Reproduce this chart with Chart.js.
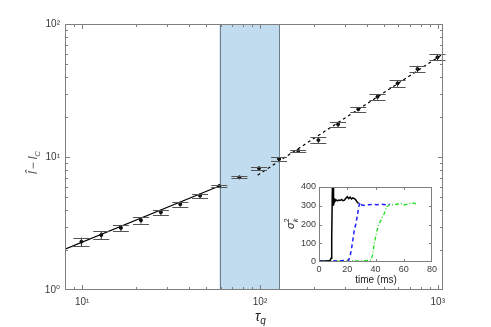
<!DOCTYPE html>
<html>
<head>
<meta charset="utf-8">
<script src="https://cdn.jsdelivr.net/npm/chart.js@4"></script>
<style>
  body { margin: 0; background: #fff; }
  #wrap { position: relative; width: 491px; height: 327px; }
  #main { position: absolute; left: 0; top: 0; }
  #inset { position: absolute; left: 280px; top: 175px; }
</style>
</head>
<body>
<div id="wrap">
  <canvas id="main" width="491" height="327"></canvas>
  <canvas id="inset" width="160" height="112"></canvas>
</div>
<script>
// main plot data (log-log)
const tauQ = [9.9, 12.8, 16.5, 21.4, 27.7, 35.6, 46, 59, 76.6, 98.7, 128, 164, 213, 275, 357, 458, 594, 769, 996];
const lHat = [2.31, 2.59, 2.93, 3.34, 3.84, 4.41, 5.12, 6.05, 7.03, 8.22, 9.66, 11.15, 13.4, 17.6, 22.9, 28.4, 35.8, 45.9, 56.2];
const lErr = [0.17, 0.19, 0.16, 0.18, 0.18, 0.18, 0.18, 0.14, 0.12, 0.25, 0.34, 0.23, 0.64, 0.88, 0.93, 1.4, 2.0, 2.6, 3.0];

// fits
const fitSlowX = [8, 59.1];
const fitSlowY = [2.03, 6.05];
const fitFastX = [97, 1050];
const fitFastY = [7.3, 58.5];

// shaded band in tau_q
const bandTau = [59.2, 128];

// ticks
const xTicks = [8, 9, 10, 20, 30, 40, 50, 60, 70, 80, 90, 100, 200, 300, 400, 500, 600, 700, 800, 900, 1000];
const yTicks = [1, 2, 3, 4, 5, 6, 7, 8, 9, 10, 20, 30, 40, 50, 60, 70, 80, 90, 100];
const decadeLabels = { 1: '10⁰', 10: '10¹', 100: '10²', 1000: '10³' };

// inset: sigma_k^2 vs time (ms)
const tBlack = [0, 2, 4, 6, 7, 8, 8.5, 9, 9.5, 10, 10.3, 10.7, 11, 12, 13, 14, 15, 16, 17, 18, 19, 20, 21, 22, 23, 24, 25, 26, 27, 28];
const sBlack = [3, 4, 5, 6, 7, 10, 20, 120, 420, 430, 300, 340, 320, 332, 326, 330, 328, 334, 327, 330, 340, 348, 338, 346, 336, 342, 338, 332, 320, 312];
const tBlue = [0, 5, 10, 15, 20, 21, 22, 23, 24, 25, 26, 27, 28, 29, 30, 32, 35, 38, 41, 44, 47, 50];
const sBlue = [5, 6, 6, 7, 8, 10, 30, 70, 120, 170, 200, 240, 290, 318, 305, 302, 305, 307, 306, 308, 306, 308];
const tGreen = [0, 10, 20, 30, 35, 37, 38, 39, 40, 41, 42, 43, 44, 45, 46, 47, 48, 49, 50, 52, 55, 58, 60, 63, 66, 68, 70];
const sGreen = [4, 5, 5, 6, 8, 12, 40, 95, 130, 165, 195, 210, 225, 240, 255, 275, 295, 300, 306, 304, 308, 312, 304, 310, 316, 312, 310];

const FONT = 'Liberation Sans, Arial, DejaVu Sans';
const AXIS = '#7f7f7f';
const TXT = '#3a3a3a';

// inward tick marks on all four sides + box
function drawBox(chart, xs, ys, xMajor, yMajor, lenMaj, lenMin) {
  const { ctx, chartArea: a, scales } = chart;
  ctx.save();
  ctx.strokeStyle = AXIS;
  ctx.lineWidth = 1;
  ctx.strokeRect(a.left + 0.5, a.top + 0.5, a.right - a.left - 1, a.bottom - a.top - 1);
  ctx.beginPath();
  xs.forEach(v => {
    const px = Math.round(scales.x.getPixelForValue(v)) + 0.5;
    if (px < a.left || px > a.right) return;
    const len = xMajor(v) ? lenMaj : lenMin;
    ctx.moveTo(px, a.bottom); ctx.lineTo(px, a.bottom - len);
    ctx.moveTo(px, a.top); ctx.lineTo(px, a.top + len);
  });
  ys.forEach(v => {
    const py = Math.round(scales.y.getPixelForValue(v)) + 0.5;
    if (py < a.top || py > a.bottom) return;
    const len = yMajor(v) ? lenMaj : lenMin;
    ctx.moveTo(a.left, py); ctx.lineTo(a.left + len, py);
    ctx.moveTo(a.right, py); ctx.lineTo(a.right - len, py);
  });
  ctx.stroke();
  ctx.restore();
}

// draw a run of text pieces one after another
function drawRun(ctx, parts, x, y) {
  parts.forEach(p => {
    ctx.font = p.font;
    ctx.fillText(p.text, x, y + (p.dy || 0));
    x += ctx.measureText(p.text).width + (p.gap || 0);
  });
}

const mainPlugin = {
  id: 'mainDecor',
  beforeDatasetsDraw(chart) {
    const { ctx, chartArea: a, scales } = chart;
    const x0 = scales.x.getPixelForValue(bandTau[0]);
    const x1 = scales.x.getPixelForValue(bandTau[1]);
    ctx.save();
    ctx.fillStyle = '#c0dcee';
    ctx.fillRect(x0, a.top, x1 - x0, a.bottom - a.top);
    ctx.strokeStyle = '#6f7f8a';
    ctx.lineWidth = 1;
    ctx.beginPath();
    ctx.moveTo(Math.round(x0) + 0.5, a.top); ctx.lineTo(Math.round(x0) + 0.5, a.bottom);
    ctx.moveTo(Math.round(x1) + 0.5, a.top); ctx.lineTo(Math.round(x1) + 0.5, a.bottom);
    ctx.stroke();
    ctx.restore();
  },
  afterDatasetsDraw(chart) {
    const { ctx, scales } = chart;
    // error bars
    ctx.save();
    tauQ.forEach((t, i) => {
      const px = scales.x.getPixelForValue(t);
      const yLo = scales.y.getPixelForValue(lHat[i] - lErr[i]);
      const yHi = scales.y.getPixelForValue(lHat[i] + lErr[i]);
      ctx.strokeStyle = '#222';
      ctx.lineWidth = 1;
      ctx.beginPath();
      ctx.moveTo(px, yLo); ctx.lineTo(px, yHi);
      ctx.stroke();
      ctx.strokeStyle = '#555';
      ctx.beginPath();
      ctx.moveTo(px - 8, Math.round(yLo) + 0.5); ctx.lineTo(px + 8, Math.round(yLo) + 0.5);
      ctx.moveTo(px - 8, Math.round(yHi) + 0.5); ctx.lineTo(px + 8, Math.round(yHi) + 0.5);
      ctx.stroke();
    });
    ctx.restore();

    drawBox(chart, xTicks, yTicks, v => v in decadeLabels, v => v in decadeLabels, 5, 3);

    // axis titles
    ctx.save();
    ctx.fillStyle = '#222';
    ctx.textBaseline = 'alphabetic';
    drawRun(ctx, [
      { text: 'τ', font: 'italic 14px ' + FONT },
      { text: 'q', font: 'italic 10px ' + FONT, dy: 3 }
    ], 255, 321);

    ctx.fillStyle = '#555';
    ctx.translate(37, 157);
    ctx.rotate(-Math.PI / 2);
    drawRun(ctx, [
      { text: 'l̂', font: 'italic 12px ' + FONT, gap: 2 },
      { text: '−', font: '12px ' + FONT, gap: 3 },
      { text: 'l', font: 'italic 12px ' + FONT },
      { text: 'C', font: 'italic 8px ' + FONT, dy: 3 }
    ], -17, 0);
    ctx.restore();
  }
};

new Chart(document.getElementById('main'), {
  type: 'scatter',
  data: {
    datasets: [
      {
        data: tauQ.map((t, i) => ({ x: t, y: lHat[i] })),
        backgroundColor: '#000',
        borderColor: '#000',
        pointRadius: 1.5,
        showLine: false
      },
      {
        data: fitSlowX.map((t, i) => ({ x: t, y: fitSlowY[i] })),
        borderColor: '#000',
        borderWidth: 1.2,
        pointRadius: 0,
        showLine: true
      },
      {
        data: fitFastX.map((t, i) => ({ x: t, y: fitFastY[i] })),
        borderColor: '#000',
        borderWidth: 1.2,
        borderDash: [3, 3],
        pointRadius: 0,
        showLine: true
      }
    ]
  },
  options: {
    responsive: false,
    animation: false,
    layout: { padding: { left: 0, right: 48, top: 24, bottom: 0 } },
    plugins: { legend: { display: false }, tooltip: { enabled: false } },
    scales: {
      x: {
        type: 'logarithmic',
        min: 8,
        max: 1070,
        grid: { display: false, drawTicks: false },
        border: { display: false },
        afterBuildTicks: s => { s.ticks = xTicks.map(v => ({ value: v })); },
        afterFit: s => { s.height = 37; },
        ticks: {
          autoSkip: false,
          maxRotation: 0,
          padding: 6,
          color: TXT,
          font: { family: FONT, size: 10 },
          callback: v => decadeLabels[v] || ''
        }
      },
      y: {
        type: 'logarithmic',
        min: 1,
        max: 100,
        grid: { display: false, drawTicks: false },
        border: { display: false },
        afterBuildTicks: s => { s.ticks = yTicks.map(v => ({ value: v })); },
        afterFit: s => { s.width = 65; },
        ticks: {
          autoSkip: false,
          padding: 5,
          color: TXT,
          font: { family: FONT, size: 10 },
          callback: v => decadeLabels[v] || ''
        }
      }
    }
  },
  plugins: [mainPlugin]
});

const insetPlugin = {
  id: 'insetDecor',
  afterDatasetsDraw(chart) {
    const { ctx } = chart;
    drawBox(chart, [0, 20, 40, 60, 80], [0, 100, 200, 300, 400], () => true, () => true, 3, 3);
    ctx.save();
    ctx.fillStyle = '#222';
    ctx.font = '10px ' + FONT;
    ctx.textAlign = 'center';
    ctx.fillText('time (ms)', 96, 108);
    ctx.translate(14, 49);
    ctx.rotate(-Math.PI / 2);
    ctx.textAlign = 'left';
    drawRun(ctx, [
      { text: 'σ', font: 'italic 11px ' + FONT },
      { text: '2', font: '7px ' + FONT, dy: -5 }
    ], -5, 0);
    ctx.font = 'italic 7px ' + FONT;
    ctx.fillText('k', 2, 4);
    ctx.restore();
  }
};

new Chart(document.getElementById('inset'), {
  type: 'scatter',
  data: {
    datasets: [
      {
        data: tBlack.map((t, i) => ({ x: t, y: sBlack[i] })),
        borderColor: '#000',
        borderWidth: 1.5,
        pointRadius: 0,
        showLine: true
      },
      {
        data: tBlue.map((t, i) => ({ x: t, y: sBlue[i] })),
        borderColor: '#1f1fff',
        borderWidth: 1.5,
        borderDash: [4, 3],
        pointRadius: 0,
        showLine: true
      },
      {
        data: tGreen.map((t, i) => ({ x: t, y: sGreen[i] })),
        borderColor: '#22e022',
        borderWidth: 1.3,
        borderDash: [4, 2, 1, 2],
        pointRadius: 0,
        showLine: true
      }
    ]
  },
  options: {
    responsive: false,
    animation: false,
    layout: { padding: { left: 0, right: 8, top: 12, bottom: 0 } },
    plugins: { legend: { display: false }, tooltip: { enabled: false } },
    scales: {
      x: {
        type: 'linear',
        min: 0,
        max: 80,
        grid: { display: false, drawTicks: false },
        border: { display: false },
        afterFit: s => { s.height = 25; },
        ticks: { stepSize: 20, maxRotation: 0, padding: 2, color: TXT, font: { family: FONT, size: 9 } }
      },
      y: {
        type: 'linear',
        min: 0,
        max: 400,
        grid: { display: false, drawTicks: false },
        border: { display: false },
        afterFit: s => { s.width = 39; },
        ticks: { stepSize: 100, padding: 3, color: TXT, font: { family: FONT, size: 9 } }
      }
    }
  },
  plugins: [insetPlugin]
});
</script>
</body>
</html>
